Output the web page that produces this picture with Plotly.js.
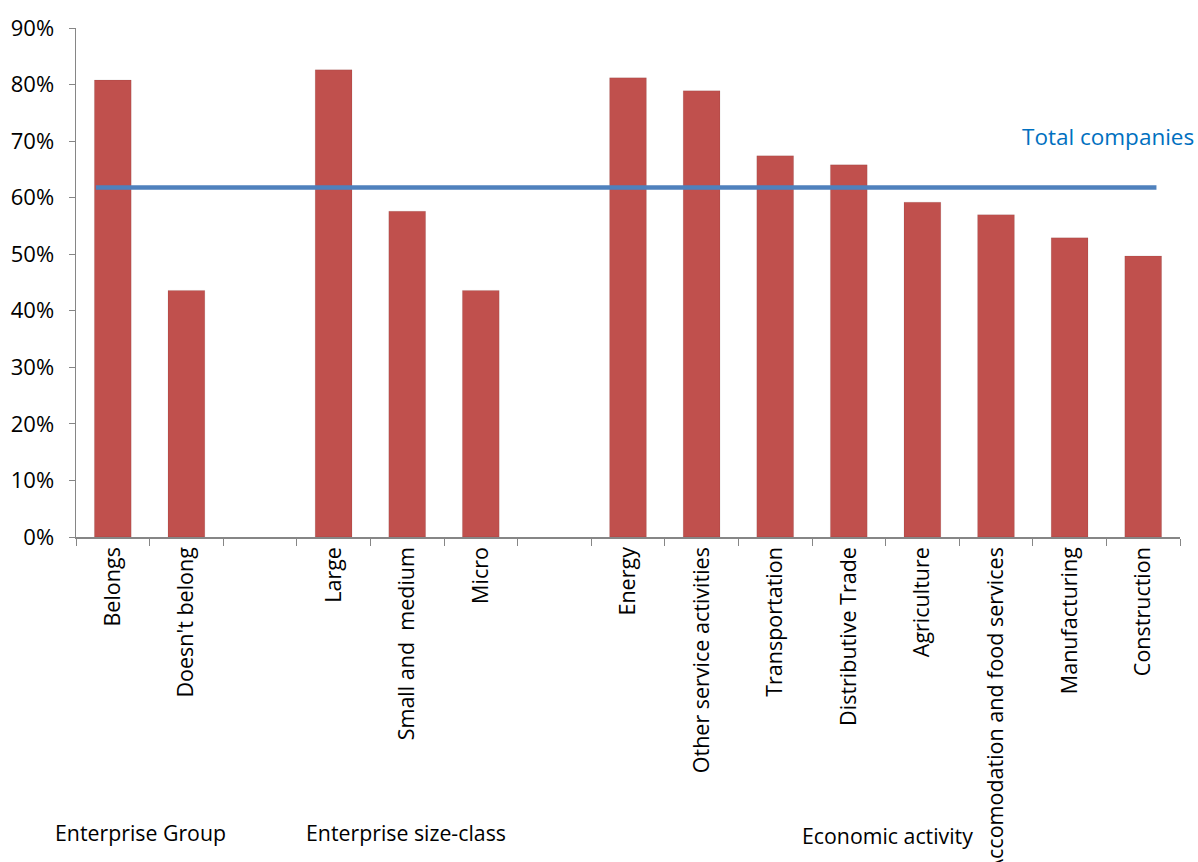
<!DOCTYPE html>
<html>
<head>
<meta charset="utf-8">
<script src="https://cdn.plot.ly/plotly-3.0.1.min.js"></script>
<style>html,body{margin:0;padding:0;background:#fff;}#chart{width:1198px;height:862px;}</style>
</head>
<body>
<div id="chart"></div>
<script>
const categories = ["Belongs", "Doesn't belong", " ", "Large", "Small and  medium", "Micro", "  ",
  "Energy", "Other service activities", "Transportation", "Distributive Trade", "Agriculture",
  "Accomodation and food services", "Manufacturing", "Construction"];
const values = [0.808, 0.436, null, 0.826, 0.576, 0.436, null,
  0.812, 0.789, 0.674, 0.658, 0.592, 0.570, 0.529, 0.497];
const totalCompanies = 0.618;
const totalLabel = "Total companies";
const groupLabels = ["Enterprise Group", "Enterprise size-class", "Economic activity"];

const font = "Open Sans, Liberation Sans, sans-serif";

const traces = [{
  type: 'bar', x: categories, y: values,
  marker: {color: '#C0504D', line: {color: 'rgba(0,0,0,0.08)', width: 1}},
  hoverinfo: 'x+y'
}];

const layout = {
  width: 1198, height: 862,
  margin: {l: 76, r: 18, t: 28, b: 325},
  paper_bgcolor: '#fff', plot_bgcolor: '#fff',
  showlegend: false,
  bargap: 0.5,
  font: {family: font, color: '#000'},
  xaxis: {
    type: 'category', tickson: 'boundaries', ticks: 'outside', ticklen: 7, tickcolor: '#868686',
    showline: true, linecolor: '#868686', linewidth: 1.5, showgrid: false, zeroline: false,
    tickangle: -90, tickfont: {size: 21.5, family: font, color: '#000'},
    automargin: false,
    range: [-0.5, 14.5]
  },
  yaxis: {
    range: [0, 0.9], dtick: 0.1, tickformat: '.0%', ticks: 'outside', ticklen: 6, tickcolor: '#868686',
    showline: true, linecolor: '#868686', linewidth: 1.5, showgrid: false, zeroline: false,
    ticklabelstandoff: 10, automargin: false,
    tickfont: {size: 22, family: font, color: '#000'}
  },
  shapes: [{
    type: 'line', xref: 'x', yref: 'y', x0: -0.23, x1: 14.18, y0: totalCompanies, y1: totalCompanies,
    line: {color: '#4F81BD', width: 4.5}
  }],
  annotations: [
    {text: totalLabel, xref: 'paper', yref: 'paper', x: 0.935, y: 0.786, showarrow: false,
     font: {size: 22.5, color: '#0070C0', family: font}, xanchor: 'center', yanchor: 'middle'},
    {text: groupLabels[0], xref: 'paper', yref: 'paper', x: 0.058, y: -0.5815, showarrow: false,
     font: {size: 21.3, family: font}, xanchor: 'center', yanchor: 'middle'},
    {text: groupLabels[1], xref: 'paper', yref: 'paper', x: 0.299, y: -0.5815, showarrow: false,
     font: {size: 21.3, family: font}, xanchor: 'center', yanchor: 'middle'},
    {text: groupLabels[2], xref: 'paper', yref: 'paper', x: 0.7355, y: -0.586, showarrow: false,
     font: {size: 21.3, family: font}, xanchor: 'center', yanchor: 'middle'}
  ]
};

Plotly.newPlot('chart', traces, layout, {displayModeBar: false, staticPlot: true});
</script>
</body>
</html>
